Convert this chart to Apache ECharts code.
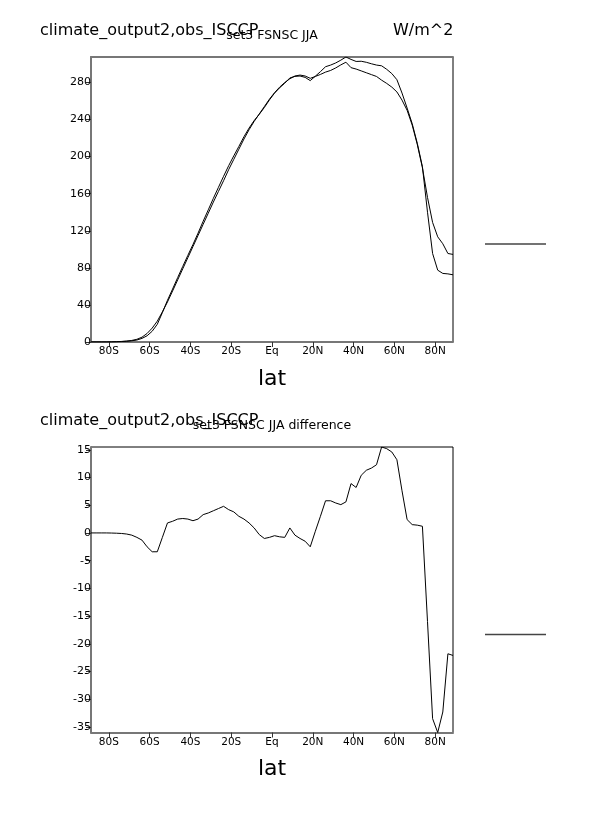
<!DOCTYPE html>
<html><head><meta charset="utf-8">
<script src="https://cdn.jsdelivr.net/npm/echarts@6/dist/echarts.min.js"></script>
<style>html,body{margin:0;padding:0;background:#fff}#c{width:606px;height:814px}</style>
</head><body><div id="c"></div>
<script>
// latitude grid (degrees, S negative)
const lat = [-88.75,-86.25,-83.75,-81.25,-78.75,-76.25,-73.75,-71.25,-68.75,-66.25,-63.75,-61.25,
  -58.75,-56.25,-53.75,-51.25,-48.75,-46.25,-43.75,-41.25,-38.75,-36.25,-33.75,-31.25,
  -28.75,-26.25,-23.75,-21.25,-18.75,-16.25,-13.75,-11.25,-8.75,-6.25,-3.75,-1.25,
  1.25,3.75,6.25,8.75,11.25,13.75,16.25,18.75,21.25,23.75,26.25,28.75,
  31.25,33.75,36.25,38.75,41.25,43.75,46.25,48.75,51.25,53.75,56.25,58.75,
  61.25,63.75,66.25,68.75,71.25,73.75,76.25,78.75,81.25,83.75,86.25,88.75];
// climate_output2 FSNSC JJA (W/m^2)
const modelFSNSC = [0,0,0,0,0.08,0.25,0.5,0.8,1.3,2.1,3.9,6.7,
  11.6,19.1,31.7,45.0,57.1,69.5,81.6,93.5,105.2,117.5,130.3,142.6,
  155.0,166.9,178.8,190.2,200.8,211.0,221.5,230.8,238.9,245.7,253.0,261.2,
  268.5,274.3,279.2,284.9,286.6,287.0,285.5,282.0,286.8,291.7,297.0,298.8,
  301.1,304.1,307.5,304.9,302.7,302.9,301.8,300.2,298.8,298.0,294.2,289.6,
  283.0,268.6,252.4,235.5,214.4,189.2,140.0,95.5,77.5,74.0,73.5,72.5];
// obs_ISCCP FSNSC JJA (W/m^2)
const obsFSNSC = [0,0,0,0,0.1,0.3,0.6,1.0,1.7,2.9,5.2,9.2,
  15.0,22.5,32.5,43.2,55.0,67.0,79.0,91.0,103.0,115.0,127.0,139.0,
  151.0,162.5,174.0,186.0,197.0,208.0,219.0,229.0,238.0,246.0,254.0,262.0,
  269.0,275.0,280.0,284.0,287.0,288.0,287.0,284.5,286.5,288.7,291.2,293.0,
  295.7,299.0,301.9,296.0,294.5,292.5,290.5,288.5,286.5,282.5,279.0,275.0,
  269.8,261.0,250.0,234.0,213.0,188.0,156.0,129.0,113.5,106.0,95.5,94.5];
// difference (model - obs)
const diffFSNSC = [0,0,0,0,-0.02,-0.05,-0.1,-0.2,-0.4,-0.8,-1.3,-2.5,
  -3.4,-3.4,-0.8,1.8,2.1,2.5,2.6,2.5,2.2,2.5,3.3,3.6,
  4.0,4.4,4.8,4.2,3.8,3.0,2.5,1.8,0.9,-0.3,-1.0,-0.8,
  -0.5,-0.7,-0.8,0.9,-0.4,-1.0,-1.5,-2.5,0.3,3.0,5.8,5.8,
  5.4,5.1,5.6,8.9,8.2,10.4,11.3,11.7,12.3,15.5,15.2,14.6,
  13.2,7.6,2.4,1.5,1.4,1.2,-16.0,-33.5,-36.0,-32.3,-21.8,-22.1];

const latTickValues = [-80,-60,-40,-20,0,20,40,60,80];
const latTickLabels = ['80S','60S','40S','20S','Eq','20N','40N','60N','80N'];
const topTickValues = [0,40,80,120,160,200,240,280];
const diffTickValues = [-35,-30,-25,-20,-15,-10,-5,0,5,10,15];

const FONT = 'DejaVu Sans';
const toPairs = arr => lat.map((x, i) => [x, arr[i]]);

function xAx(gi) {
  return {
    type: 'value', gridIndex: gi, min: lat[0], max: lat[lat.length - 1],
    name: 'lat', nameLocation: 'middle', nameGap: 26,
    nameTextStyle: { fontFamily: FONT, fontSize: 22, color: '#000' },
    axisLine: { show: true, onZero: false, lineStyle: { color: '#777', width: 2 } },
    axisTick: { show: true, inside: false, length: 5, customValues: latTickValues, lineStyle: { color: '#333', width: 1 } },
    axisLabel: { customValues: latTickValues, margin: 4, fontFamily: FONT, fontSize: 10.5, color: '#000',
      formatter: v => latTickLabels[latTickValues.indexOf(v)] },
    splitLine: { show: false }
  };
}
function yAx(gi, mn, mx, ticks) {
  return {
    type: 'value', gridIndex: gi, min: mn, max: mx,
    axisLine: { show: true, onZero: false, lineStyle: { color: '#777', width: 2 } },
    axisTick: { show: true, inside: false, length: 5, customValues: ticks, lineStyle: { color: '#333', width: 1 } },
    axisLabel: { customValues: ticks, margin: 0, fontFamily: FONT, fontSize: 11, color: '#000' },
    splitLine: { show: false }
  };
}

const chart = echarts.init(document.getElementById('c'), null, { renderer: 'canvas' });
const lineStyle = { color: '#000', width: 1 };
chart.setOption({
  animation: false,
  backgroundColor: '#fff',
  grid: [
    { left: 91, top: 57, right: 153, bottom: 472, show: true, borderColor: '#000', borderWidth: 1, containLabel: false },
    { left: 91, top: 447, right: 153, bottom: 81.5, show: true, borderColor: '#000', borderWidth: 1, containLabel: false }
  ],
  xAxis: [
    xAx(0), xAx(1),
    { type: 'value', gridIndex: 0, position: 'top', min: lat[0], max: lat[lat.length - 1],
      axisLine: { show: true, onZero: false, lineStyle: { color: '#777', width: 2 } },
      axisTick: { show: false }, axisLabel: { show: false }, splitLine: { show: false } }
  ],
  yAxis: [
    yAx(0, 0, Math.max(...modelFSNSC, ...obsFSNSC), topTickValues),
    yAx(1, Math.min(...diffFSNSC), Math.max(...diffFSNSC), diffTickValues)
  ],
  series: [
    { type: 'line', name: 'climate_output2', xAxisIndex: 0, yAxisIndex: 0, data: toPairs(modelFSNSC), showSymbol: false, lineStyle, color: '#000', silent: true },
    { type: 'line', name: 'obs_ISCCP', xAxisIndex: 0, yAxisIndex: 0, data: toPairs(obsFSNSC), showSymbol: false, lineStyle, color: '#000', silent: true },
    { type: 'line', name: 'difference', xAxisIndex: 1, yAxisIndex: 1, data: toPairs(diffFSNSC), showSymbol: false, lineStyle, color: '#000', silent: true }
  ],
  graphic: [
    { type: 'text', left: 40, top: 23, style: { text: 'climate_output2,obs_ISCCP', font: '16px "DejaVu Sans"', fill: '#000' } },
    { type: 'text', x: 272, y: 36, style: { text: 'set3 FSNSC JJA', font: '12.5px "DejaVu Sans"', fill: '#000', textAlign: 'center', textVerticalAlign: 'middle' } },
    { type: 'text', left: 393, top: 23, style: { text: 'W/m^2', font: '16px "DejaVu Sans"', fill: '#000' } },
    { type: 'text', left: 40, top: 413, style: { text: 'climate_output2,obs_ISCCP', font: '16px "DejaVu Sans"', fill: '#000' } },
    { type: 'text', x: 272, y: 426, style: { text: 'set3 FSNSC JJA difference', font: '12.5px "DejaVu Sans"', fill: '#000', textAlign: 'center', textVerticalAlign: 'middle' } },
    { type: 'line', shape: { x1: 485, y1: 244, x2: 546, y2: 244 }, style: { stroke: '#444', lineWidth: 1.5 } },
    { type: 'line', shape: { x1: 485, y1: 634.5, x2: 546, y2: 634.5 }, style: { stroke: '#444', lineWidth: 1.5 } }
  ]
});
</script></body></html>
